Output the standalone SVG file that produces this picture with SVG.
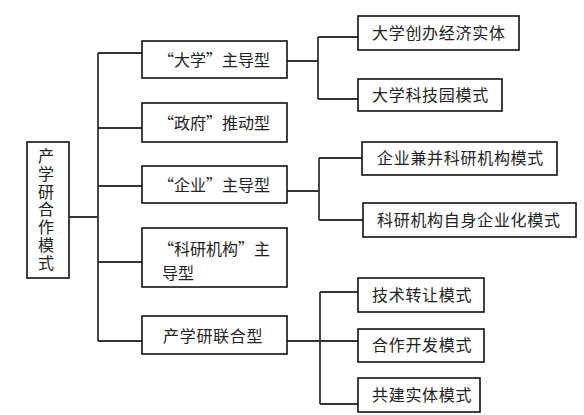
<svg xmlns="http://www.w3.org/2000/svg" width="584" height="415" viewBox="0 0 584 415">
<style>
.box{fill:#fff;stroke:#111;stroke-width:1.6}
.t{font-family:"Noto Sans CJK SC","Noto Sans",sans-serif;font-size:16px;fill:#222}
.r{letter-spacing:0.7px}
.c{fill:none;stroke:#333;stroke-width:1.8}
</style>
<rect width="584" height="415" fill="#fff"/>
<g id="connectors">
<path class="c" d="M69 217H98M98 53V341M98 53H142M98 128H142M98 186H142M98 262H142M98 341H142"/>
<path class="c" d="M287 61H318M318 37V99M318 37H358M318 99H358"/>
<path class="c" d="M287 191H319M319 158V220M319 158H362M319 220H363"/>
<path class="c" d="M287 341H320M320 292V404M320 292H358M320 341H358M320 404H358"/>
</g>
<g id="root"><rect class="box" x="27" y="142" width="42" height="136"/>
<text class="t" font-size="15" x="46" y="148" writing-mode="vertical-rl" letter-spacing="1.8">产学研合作模式</text></g>
<g id="n1"><rect class="box" x="142" y="41" width="145" height="37"/><text class="t" x="158" y="66">“大学”主导型</text></g>
<g id="n2"><rect class="box" x="142" y="103" width="145" height="39"/><text class="t" x="158" y="129">“政府”推动型</text></g>
<g id="n3"><rect class="box" x="142" y="166" width="145" height="37"/><text class="t" x="158" y="191">“企业”主导型</text></g>
<g id="n4"><rect class="box" x="142" y="228" width="145" height="59"/><text class="t" x="158" y="255">“科研机构”主</text><text class="t" x="162" y="279">导型</text></g>
<g id="n5"><rect class="box" x="142" y="316" width="145" height="38"/><text class="t r" x="163" y="342">产学研联合型</text></g>
<g id="a"><rect class="box" x="358" y="16" width="161" height="34"/><text class="t r" x="372" y="39">大学创办经济实体</text></g>
<g id="b"><rect class="box" x="358" y="79" width="144" height="32"/><text class="t r" x="372" y="101">大学科技园模式</text></g>
<g id="c"><rect class="box" x="362" y="142" width="195" height="33"/><text class="t r" x="377" y="164">企业兼并科研机构模式</text></g>
<g id="d"><rect class="box" x="363" y="203" width="213" height="34"/><text class="t r" x="377" y="226">科研机构自身企业化模式</text></g>
<g id="e"><rect class="box" x="358" y="278" width="126" height="34"/><text class="t r" x="372" y="301">技术转让模式</text></g>
<g id="f"><rect class="box" x="358" y="329" width="126" height="33"/><text class="t r" x="372" y="351">合作开发模式</text></g>
<g id="g"><rect class="box" x="358" y="378" width="122" height="34"/><text class="t r" x="372" y="401">共建实体模式</text></g>
</svg>
